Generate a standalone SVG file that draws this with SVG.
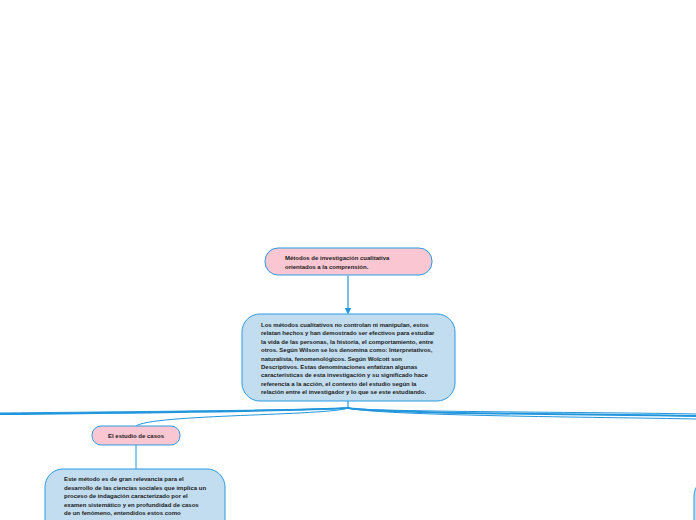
<svg xmlns="http://www.w3.org/2000/svg" width="696" height="520" viewBox="0 0 696 520">
<style>
.pink{fill:#f9c6d2;stroke:#2b9be3;stroke-width:1}
.blue{fill:#c3ddf0;stroke:#2b9be3;stroke-width:1}
text{font-family:"Liberation Sans",Arial,sans-serif;font-weight:bold;font-size:6px;fill:#1a1a1a}
.c{fill:none;stroke:#2196dd;stroke-linecap:round}
</style>
<defs>
<marker id="ah" markerWidth="7" markerHeight="7" refX="3.5" refY="3.5" orient="auto" markerUnits="userSpaceOnUse">
<path d="M0,0 L7,3.5 L0,7 z" fill="#2196dd"/>
</marker>
</defs>
<rect width="696" height="520" fill="#fff"/>
<g id="connectors">
<path class="c" stroke-width="1.2" d="M348,276 L348,311" marker-end="url(#ah)"/>
<path class="c" stroke-width="1.2" d="M348,401 L348,408"/>
<path class="c" stroke-width="2" d="M348,408 C300,411 100,413 0,414"/>
<path class="c" stroke-width="1" d="M348,408 C330,416 150,414 136,426"/>
<path class="c" stroke-width="1" d="M348,408 C320,410 100,412 0,413"/>
<path class="c" stroke-width="2" d="M348,408 C380,414 600,414 696,416"/>
<path class="c" stroke-width="1" d="M348,408 C380,416 600,417 696,419"/>
<path class="c" stroke-width="1" d="M348,408 C370,412 600,412 696,414"/>
<path class="c" stroke-width="1" d="M136,445 L136,469"/>
</g>
<g id="node-title">
<rect class="pink" x="265" y="248" width="167" height="27" rx="13"/>
<text x="285" y="260">Métodos de investigación cualitativa</text>
<text x="285" y="269">orientados a la comprensión.</text>
</g>
<g id="node-main">
<rect class="blue" x="242" y="314" width="213" height="87" rx="18"/>
<text x="261" y="327">Los métodos cualitativos no controlan ni manipulan, estos</text>
<text x="261" y="335.4">relatan hechos y han demostrado ser efectivos para estudiar</text>
<text x="261" y="343.8">la vida de las personas, la historia, el comportamiento, entre</text>
<text x="261" y="352.2">otros. Según Wilson se los denomina como: Interpretativos,</text>
<text x="261" y="360.6">naturalista, fenomenológicos. Según Wolcott son</text>
<text x="261" y="369">Descriptivos. Estas denominaciones enfatizan algunas</text>
<text x="261" y="377.4">características de esta investigación y su significado hace</text>
<text x="261" y="385.8">referencia a la acción, el contexto del estudio según la</text>
<text x="261" y="394.2">relación entre el investigador y lo que se este estudiando.</text>
</g>
<g id="node-casos">
<rect class="pink" x="92" y="426" width="88" height="19" rx="9"/>
<text x="136" y="437.5" text-anchor="middle">El estudio de casos</text>
</g>
<g id="node-casos-desc">
<rect class="blue" x="45" y="469" width="180" height="70" rx="18"/>
<text x="64" y="481">Este método es de gran relevancia para el</text>
<text x="64" y="489.5">desarrollo de las ciencias sociales que implica un</text>
<text x="64" y="498">proceso de indagación caracterizado por el</text>
<text x="64" y="506.5">examen sistemático y en profundidad de casos</text>
<text x="64" y="515">de un fenómeno, entendidos estos como</text>
</g>
<g id="node-right">
<rect class="blue" x="694" y="478" width="120" height="70" rx="18"/>
</g>
</svg>
